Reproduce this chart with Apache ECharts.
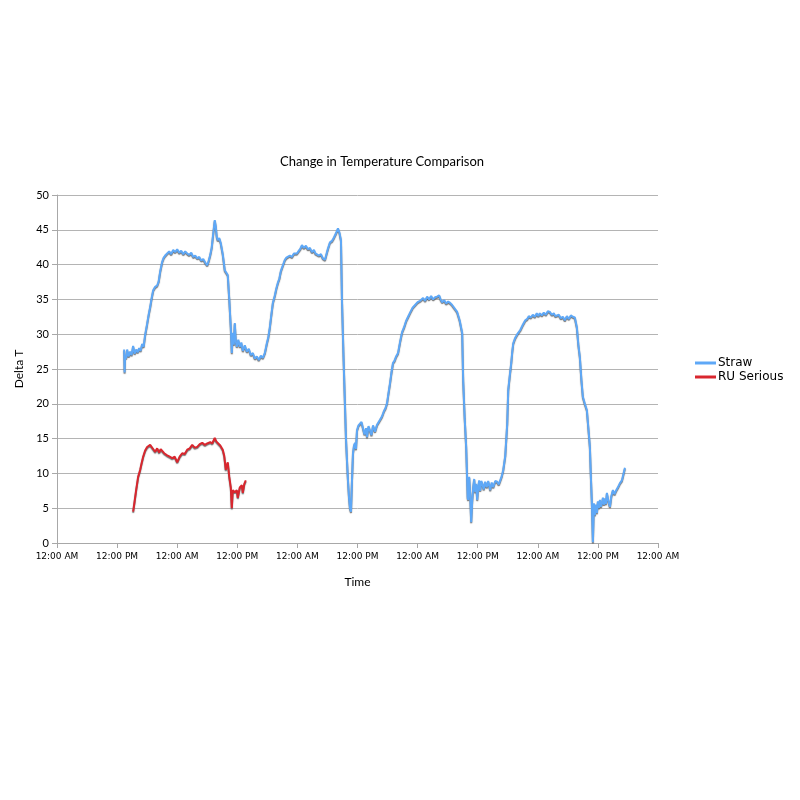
<!DOCTYPE html>
<html><head><meta charset="utf-8">
<script src="https://cdn.jsdelivr.net/npm/echarts@6/dist/echarts.min.js"></script>
<style>html,body{margin:0;padding:0;background:#fff}#c{width:800px;height:800px}</style>
</head><body><div id="c"></div>
<script>
var xTickLabels = ['12:00 AM', '12:00 PM'];
// Straw: [hours from first 12:00 AM, delta T]
var strawHours = [13.4,13.5,13.6,13.8,14.0,14.3,14.6,14.9,15.2,15.5,15.8,16.1,16.4,16.7,17.0,17.3,17.6,18.0,18.3,18.6,18.9,19.2,19.6,20.0,20.3,20.6,21.0,21.3,21.6,22.0,22.4,22.8,23.2,23.6,24.0,24.4,24.8,25.2,25.6,26.0,26.4,26.8,27.2,27.6,28.0,28.4,28.8,29.2,29.6,30.0,30.3,30.6,30.9,31.2,31.5,31.7,31.9,32.1,32.4,32.7,33.1,33.5,34.1,34.4,34.7,34.9,35.1,35.3,35.5,35.7,35.9,36.2,36.5,36.8,37.1,37.5,37.9,38.3,38.7,39.1,39.5,39.9,40.3,40.7,41.1,41.5,41.9,42.2,42.5,42.8,43.1,43.5,43.8,44.1,44.4,44.7,45.1,45.5,45.8,46.1,46.5,46.9,47.3,47.6,47.9,48.3,48.6,48.9,49.3,49.7,50.1,50.5,50.9,51.3,51.6,51.9,52.3,52.7,53.1,53.5,53.8,54.1,54.5,54.9,55.3,55.7,56.1,56.4,56.7,56.9,57.2,57.5,57.7,57.9,58.1,58.3,58.5,58.7,58.9,59.1,59.3,59.5,59.7,59.9,60.2,60.5,60.8,61.1,61.4,61.7,61.9,62.2,62.5,62.8,63.1,63.5,63.9,64.2,64.5,64.9,65.3,65.6,65.9,66.2,66.5,66.8,67.1,67.4,67.7,68.1,68.5,68.9,69.3,69.7,70.1,70.5,71.0,71.5,72.0,72.5,73.1,73.5,73.9,74.3,74.7,75.1,75.5,75.9,76.3,76.6,76.9,77.3,77.7,78.1,78.5,78.9,79.3,79.6,79.9,80.4,80.9,81.1,81.4,81.7,81.9,82.0,82.1,82.3,82.5,82.7,82.9,83.1,83.3,83.5,83.7,83.9,84.1,84.3,84.5,84.7,84.9,85.2,85.5,85.8,86.1,86.5,86.8,87.1,87.5,87.9,88.2,88.5,88.8,89.1,89.5,89.9,90.1,90.4,90.7,90.9,91.1,91.5,91.9,92.2,92.5,92.9,93.2,93.5,93.9,94.2,94.6,95.0,95.4,95.8,96.1,96.4,96.8,97.2,97.6,98.0,98.4,98.8,99.2,99.5,99.8,100.2,100.6,101.0,101.4,101.8,102.2,102.6,103.0,103.4,103.8,104.1,104.4,104.7,105.0,105.4,105.8,106.1,106.4,106.6,106.8,107.0,107.2,107.4,107.6,107.8,108.0,108.2,108.4,108.6,108.8,109.0,109.2,109.4,109.6,109.8,110.1,110.4,110.7,111.0,111.3,111.6,112.0,112.4,112.8,113.1,113.4];
var strawValues = [27.8,24.5,27.0,26.5,27.8,26.8,27.5,27.0,28.3,27.2,27.8,27.4,28.0,27.6,28.6,28.2,29.9,31.5,32.8,33.9,35.2,36.3,36.8,37.0,37.6,39.0,40.4,41.0,41.3,41.6,41.9,41.5,42.1,41.8,42.2,41.7,42.0,41.5,41.9,41.6,41.4,41.7,41.1,41.3,40.9,41.1,40.6,40.8,40.3,39.9,40.6,41.4,42.5,44.5,46.4,45.5,44.0,43.5,43.8,43.1,41.5,39.2,38.5,35.0,31.0,27.3,30.2,28.5,31.6,29.0,28.2,29.2,28.2,28.8,27.6,28.4,27.5,27.9,27.0,27.3,26.5,26.8,26.3,26.9,26.6,27.3,28.7,29.6,31.0,32.8,34.5,35.6,36.6,37.4,38.0,39.1,39.9,40.7,41.0,41.1,41.3,41.1,41.6,41.4,41.6,42.0,42.3,42.8,42.4,42.7,42.2,42.4,41.8,42.1,41.6,41.6,41.3,41.5,40.9,40.7,41.5,42.3,43.2,43.4,43.9,44.5,45.2,44.6,43.5,34.9,27.0,19.8,15.0,11.9,9.0,6.6,5.0,4.5,9.0,12.9,14.0,14.4,13.5,16.2,16.9,16.7,17.4,17.2,15.6,16.5,15.2,16.8,16.7,15.5,16.9,16.0,17.0,16.8,17.7,18.2,19.0,19.4,20.1,21.6,23.0,24.6,25.9,26.2,26.8,27.3,28.9,30.3,31.0,31.9,32.5,33.1,33.8,34.2,34.6,34.8,35.2,34.8,35.4,35.0,35.5,35.0,35.3,35.4,35.6,35.0,34.6,34.9,34.4,34.7,34.5,34.2,33.8,33.5,33.2,32.0,30.2,23.4,18.0,13.8,9.0,6.5,6.2,9.5,7.0,3.0,6.0,8.0,9.2,7.3,8.5,6.2,8.0,9.0,7.5,8.9,8.6,7.7,8.8,8.0,8.9,7.6,8.7,8.0,8.9,8.8,8.4,9.0,9.6,10.5,12.5,17.2,22.0,24.0,25.9,27.5,28.7,29.5,30.0,30.2,30.6,31.2,31.6,32.0,32.2,32.6,32.4,32.8,32.5,33.0,32.6,33.0,32.7,33.1,32.8,33.3,33.2,32.8,33.0,32.6,32.5,32.8,32.3,32.5,32.0,32.6,32.2,32.7,32.5,32.4,31.0,28.5,26.7,23.5,21.0,20.0,19.1,16.5,13.8,9.5,5.7,0.1,5.7,4.0,5.5,4.3,6.0,5.0,6.2,5.2,5.7,6.5,5.5,6.4,5.6,7.2,6.0,5.2,6.8,7.6,7.0,7.5,8.0,8.6,9.0,9.9,10.8];
// RU Serious
var ruHours = [15.2,15.5,15.8,16.2,16.6,16.9,17.2,17.6,18.0,18.3,18.6,18.9,19.2,19.6,20.0,20.4,20.7,21.0,21.4,21.7,22.0,22.5,23.0,23.5,24.0,24.5,25.0,25.5,26.0,26.5,27.0,27.5,28.0,28.5,29.0,29.5,30.0,30.6,31.0,31.5,31.8,32.1,32.6,33.1,33.4,33.7,33.9,34.1,34.4,34.7,34.9,35.1,35.5,35.9,36.1,36.5,36.9,37.1,37.4,37.7];
var ruValues = [4.5,6.0,7.6,9.5,10.5,11.5,12.4,13.3,13.8,14.0,14.1,13.9,13.5,13.1,13.6,13.0,13.5,13.4,12.9,13.0,12.6,12.4,12.2,12.4,11.6,12.4,12.9,12.8,13.4,13.6,14.1,13.7,13.8,14.2,14.4,14.1,14.3,14.5,14.3,15.1,14.6,14.4,14.0,13.4,12.5,10.5,11.2,11.6,9.5,8.0,5.0,7.6,7.3,7.6,6.5,8.0,8.3,7.2,8.5,9.0];

function zip(a, b) { return a.map(function (v, i) { return [v, b[i]]; }); }

var chart = echarts.init(document.getElementById('c'), null, {renderer: 'canvas'});
var lineShadow = {shadowColor: 'rgba(70,70,70,0.75)', shadowBlur: 1, shadowOffsetY: 1.2};
chart.setOption({
  animation: false,
  backgroundColor: '#ffffff',
  title: {
    text: 'Change in Temperature Comparison',
    left: 275, top: 150,
    textStyle: {fontFamily: 'Lato', fontSize: 13, fontWeight: 'normal', color: '#000'}
  },
  legend: {
    orient: 'vertical', left: 690, top: 352, itemGap: 2,
    itemWidth: 21, itemHeight: 3, icon: 'rect',
    textStyle: {fontFamily: 'DejaVu Sans', fontSize: 12, color: '#000', padding: [0, 0, 0, -3]},
    data: ['Straw', 'RU Serious']
  },
  grid: {left: 57, right: 142, top: 195, bottom: 257, containLabel: false},
  xAxis: {
    type: 'value', min: 0, max: 120, interval: 12,
    name: 'Time', nameLocation: 'middle', nameGap: 33,
    nameTextStyle: {fontFamily: 'Lato', fontSize: 12, color: '#000'},
    axisLine: {show: true, lineStyle: {color: '#a8a8a8', width: 1}},
    axisTick: {show: true, length: 5, lineStyle: {color: '#a8a8a8'}},
    splitLine: {show: false},
    axisLabel: {
      fontFamily: 'DejaVu Sans', fontSize: 9, color: '#000', margin: 9,
      showMinLabel: true, showMaxLabel: true,
      formatter: function (v) { return xTickLabels[Math.round(v / 12) % 2]; }
    }
  },
  yAxis: {
    type: 'value', min: 0, max: 50, interval: 5,
    name: 'Delta T', nameLocation: 'middle', nameGap: 29, nameRotate: 90,
    nameTextStyle: {fontFamily: 'Lato', fontSize: 12, color: '#000'},
    axisLine: {show: true, lineStyle: {color: '#a8a8a8', width: 1}},
    axisTick: {show: true, length: 5, lineStyle: {color: '#a8a8a8'}},
    splitLine: {show: true, lineStyle: {color: '#b4b4b4', width: 1}},
    axisLabel: {fontFamily: 'Lato', fontSize: 11, color: '#000', margin: 8}
  },
  series: [
    {
      name: 'Straw', type: 'line', showSymbol: false, symbol: 'none',
      color: '#5ea8f7',
      lineStyle: Object.assign({width: 2, color: '#5ea8f7'}, lineShadow),
      data: zip(strawHours, strawValues)
    },
    {
      name: 'RU Serious', type: 'line', showSymbol: false, symbol: 'none',
      color: '#d9262e',
      lineStyle: Object.assign({width: 2, color: '#d9262e'}, lineShadow),
      data: zip(ruHours, ruValues)
    }
  ]
});
</script>
</body></html>
